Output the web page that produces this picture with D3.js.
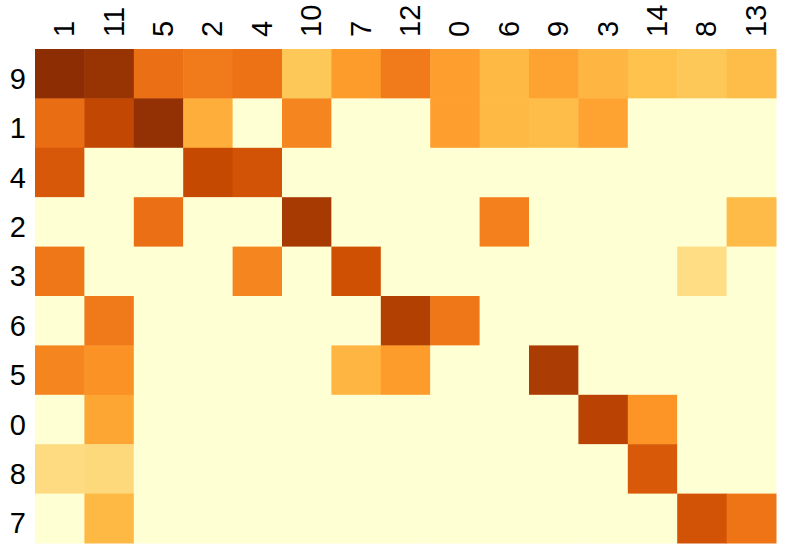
<!DOCTYPE html>
<html>
<head>
<meta charset="utf-8">
<script src="https://cdn.jsdelivr.net/npm/d3@7"></script>
<style>
  body {
    margin: 0;
    background: #ffffff;
  }
  .heatmap__label {
    font-family: "Liberation Sans", Arial, sans-serif;
    font-size: 29px;
    fill: #000000;
  }
</style>
</head>
<body>
<svg class="heatmap__chart" width="788" height="552"></svg>
<script>
const colLabels = ["1", "11", "5", "2", "4", "10", "7", "12", "0", "6", "9", "3", "14", "8", "13"];
const rowLabels = ["9", "1", "4", "2", "3", "6", "5", "0", "8", "7"];

// one row per row label, in column order
const values = [
  [1.0, 0.97, 0.67, 0.62, 0.66, 0.31, 0.49, 0.62, 0.48, 0.38, 0.46, 0.39, 0.34, 0.31, 0.36],
  [0.68, 0.86, 0.98, 0.42, 0, 0.58, 0, 0, 0.48, 0.38, 0.36, 0.46, 0, 0, 0],
  [0.78, 0, 0, 0.85, 0.8, 0, 0, 0, 0, 0, 0, 0, 0, 0, 0],
  [0, 0, 0.67, 0, 0, 0.93, 0, 0, 0, 0.6, 0, 0, 0, 0, 0.37],
  [0.64, 0, 0, 0, 0.58, 0, 0.82, 0, 0, 0, 0, 0, 0, 0.2, 0],
  [0, 0.63, 0, 0, 0, 0, 0, 0.9, 0.64, 0, 0, 0, 0, 0, 0],
  [0.58, 0.53, 0, 0, 0, 0, 0.39, 0.49, 0, 0, 0.92, 0, 0, 0, 0],
  [0, 0.45, 0, 0, 0, 0, 0, 0, 0, 0, 0, 0.88, 0.52, 0, 0],
  [0.21, 0.22, 0, 0, 0, 0, 0, 0, 0, 0, 0, 0, 0.77, 0, 0],
  [0, 0.38, 0, 0, 0, 0, 0, 0, 0, 0, 0, 0, 0, 0.8, 0.65],
];

const paletteColors = ["#FFFFD4", "#FEE391", "#FEC44F", "#FE9929", "#EC7014", "#CC4C02", "#8C2D04"];

function createChart() {
  const svg = d3.select(".heatmap__chart");
  const left = 35;
  const right = 776;
  const top = 49;
  const bottom = 543;

  const xScale = d3.scaleBand().domain(colLabels).range([left, right]);
  const yScale = d3.scaleBand().domain(rowLabels).range([top, bottom]);

  const color = d3
    .scaleLinear()
    .domain(paletteColors.map((_, i) => i / (paletteColors.length - 1)))
    .range(paletteColors)
    .interpolate(d3.interpolateRgb);

  const cells = [];
  rowLabels.forEach((row, i) => {
    colLabels.forEach((col, j) => {
      cells.push({ row: row, col: col, value: values[i][j] });
    });
  });

  svg
    .append("g")
    .attr("class", "heatmap__cells")
    .selectAll("rect")
    .data(cells)
    .enter()
    .append("rect")
    .attr("x", (d) => xScale(d.col))
    .attr("y", (d) => yScale(d.row))
    .attr("width", xScale.bandwidth() + 0.5)
    .attr("height", yScale.bandwidth() + 0.5)
    .attr("fill", (d) => color(d.value));

  // column labels, rotated, above the grid
  const xAxis = d3.axisTop(xScale).tickSize(0).tickPadding(0);
  const xAxisG = svg
    .append("g")
    .attr("transform", "translate(0, " + (top - 12) + ")")
    .call(xAxis);
  xAxisG.select(".domain").remove();
  xAxisG
    .selectAll("text")
    .attr("class", "heatmap__label")
    .attr("transform", "rotate(-90)")
    .attr("x", 0)
    .attr("y", 0)
    .attr("dx", 0)
    .attr("dy", "0.5em")
    .attr("text-anchor", "start");

  // row labels on the left
  const yAxis = d3.axisLeft(yScale).tickSize(0).tickPadding(0);
  const yAxisG = svg
    .append("g")
    .attr("transform", "translate(" + (left - 9) + ", 0)")
    .call(yAxis);
  yAxisG.select(".domain").remove();
  yAxisG
    .selectAll("text")
    .attr("class", "heatmap__label")
    .attr("x", 0)
    .attr("dy", "0.52em")
    .attr("text-anchor", "end");
}

createChart();
</script>
</body>
</html>
